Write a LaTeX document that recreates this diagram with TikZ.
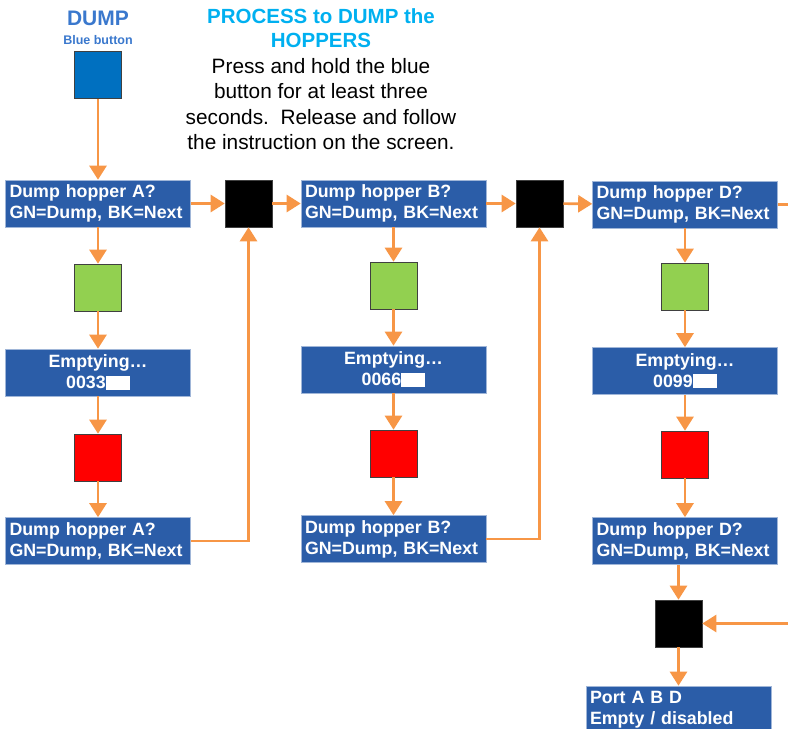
\documentclass[tikz,border=0pt]{standalone}
\usepackage{fontspec}
\setmainfont{Liberation Sans}
\usetikzlibrary{arrows.meta}
\definecolor{screenblue}{RGB}{43,93,168}
\definecolor{dumpblue}{RGB}{58,120,205}
\definecolor{btnblue}{RGB}{0,112,192}
\definecolor{titlecyan}{RGB}{0,176,240}
\definecolor{flowor}{RGB}{247,150,70}
\definecolor{keygreen}{RGB}{146,208,80}
\tikzset{
  screen/.style={fill=screenblue, draw=screenblue!45!white, line width=0.6pt,
    text=white, font=\bfseries\fontsize{17.8}{21}\selectfont,
    minimum width=185pt, minimum height=47pt, inner xsep=4pt, inner ysep=0pt,
    text width=177pt, align=left},
  key/.style={minimum size=47pt, inner sep=0pt, draw=black!75, line width=0.6pt},
  flow/.style={draw=flowor, line width=2.6pt,
    -{Triangle[width=17pt,length=14pt]}},
}
\newcommand{\blot}{\textcolor{white}{\rule[-1pt]{24pt}{14pt}}}

\begin{document}
\begin{tikzpicture}[x=1pt,y=-1pt]
  \useasboundingbox (0,0) rectangle (788,729);

  % heading
  \node[text=dumpblue, font=\bfseries\fontsize{21}{24}\selectfont] (dump) at (98,18) {DUMP};
  \node[text=dumpblue, font=\bfseries\fontsize{12.5}{14}\selectfont] (bluebtn) at (98,40) {Blue button};
  \node[key, fill=btnblue] (btn) at (98,75) {};
  \node[text=titlecyan, font=\bfseries\fontsize{20.5}{24}\selectfont, align=center]
    (title) at (321,28) {PROCESS to DUMP the\\HOPPERS};
  \node[font=\fontsize{20.8}{25.3}\selectfont, align=center] (howto) at (321,104)
    {Press and hold the blue\\button for at least three\\seconds.\ \ Release and follow\\the instruction on the screen.};

  % hopper A
  \node[screen] (a1) at (98,203.5) {Dump hopper A?\\GN=Dump, BK=Next};
  \node[key, fill=keygreen] (ga) at (98,287.5) {};
  \node[screen, align=center] (ea) at (98,372.5) {Emptying…\\0033\blot};
  \node[key, fill=red] (ra) at (98,457.5) {};
  \node[screen] (a2) at (98,541) {Dump hopper A?\\GN=Dump, BK=Next};
  \node[key, fill=black] (k1) at (248.5,203.5) {};

  % hopper B
  \node[screen] (b1) at (393.5,203.5) {Dump hopper B?\\GN=Dump, BK=Next};
  \node[key, fill=keygreen] (gb) at (393.5,285.5) {};
  \node[screen, align=center] (eb) at (393.5,369.5) {Emptying…\\0066\blot};
  \node[key, fill=red] (rb) at (393.5,453.5) {};
  \node[screen] (b2) at (393.5,539) {Dump hopper B?\\GN=Dump, BK=Next};
  \node[key, fill=black] (k2) at (539.5,203.5) {};

  % hopper D
  \node[screen] (d1) at (685,204.5) {Dump hopper D?\\GN=Dump, BK=Next};
  \node[key, fill=keygreen] (gd) at (685,286.5) {};
  \node[screen, align=center] (ed) at (685,371) {Emptying…\\0099\blot};
  \node[key, fill=red] (rd) at (685,454.5) {};
  \node[screen] (d2) at (685,541) {Dump hopper D?\\GN=Dump, BK=Next};
  \node[key, fill=black] (k3) at (678.5,623.5) {};
  \node[screen] (port) at (678.5,709.5) {Port A B D\\Empty / disabled};

  \coordinate (dout) at (788,204.5);
  \coordinate (din) at (788,623.5);

  % arrows
  \draw[flow] (btn) -- (a1);
  \draw[flow] (a1) -- (ga);
  \draw[flow] (ga) -- (ea);
  \draw[flow] (ea) -- (ra);
  \draw[flow] (ra) -- (a2);
  \draw[flow] (a1) -- (k1);
  \draw[flow] (k1) -- (b1);
  \draw[flow] (a2.east) -| (k1.south);

  \draw[flow] (b1) -- (gb);
  \draw[flow] (gb) -- (eb);
  \draw[flow] (eb) -- (rb);
  \draw[flow] (rb) -- (b2);
  \draw[flow] (b1) -- (k2);
  \draw[flow] (k2) -- (d1);
  \draw[flow] (b2.east) -| (k2.south);

  \draw[flow] (d1) -- (gd);
  \draw[flow] (gd) -- (ed);
  \draw[flow] (ed) -- (rd);
  \draw[flow] (rd) -- (d2);
  \draw[flow, -] (d1.east) -- (dout);
  \draw[flow] (d2.south -| k3) -- (k3);
  \draw[flow] (din) -- (k3.east);
  \draw[flow] (k3) -- (port);
\end{tikzpicture}
\end{document}
